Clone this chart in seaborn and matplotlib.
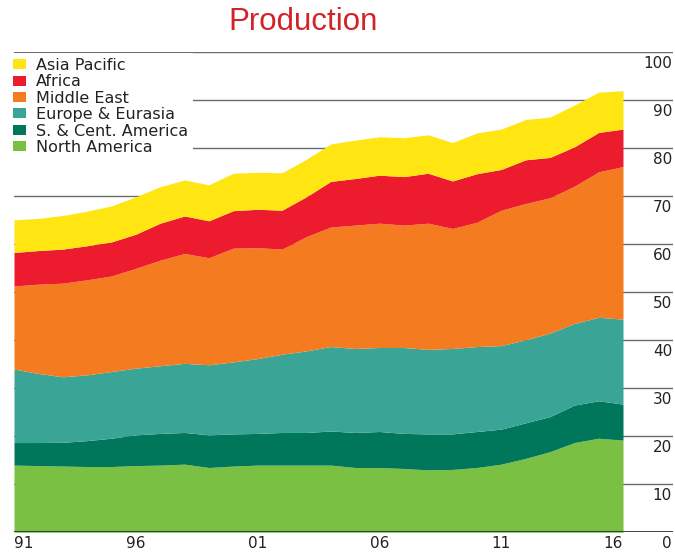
"""
Stacked area chart of oil production by region (1991-2016).
"""

import matplotlib
matplotlib.use("Agg")
import matplotlib.pyplot as plt
import matplotlib.transforms as mtransforms
from matplotlib.patches import Patch
import seaborn as sns

years = list(range(1991, 2017))

north_america = [14.0, 13.9, 13.8, 13.7, 13.7, 13.9, 14.0, 14.2, 13.5, 13.8,
                 14.0, 14.0, 14.0, 14.0, 13.5, 13.5, 13.3, 13.0, 13.1, 13.5,
                 14.2, 15.4, 16.8, 18.7, 19.6, 19.2]
sc_america = [4.7, 4.8, 4.95, 5.4, 5.9, 6.4, 6.6, 6.6, 6.8, 6.7,
              6.6, 6.8, 6.8, 7.1, 7.3, 7.5, 7.3, 7.5, 7.4, 7.5,
              7.3, 7.4, 7.3, 7.8, 7.8, 7.5]
europe_eurasia = [15.3, 14.4, 13.65, 13.7, 13.9, 13.9, 14.1, 14.4, 14.6, 15.0,
                  15.6, 16.3, 17.0, 17.6, 17.5, 17.5, 17.9, 17.6, 17.8, 17.7,
                  17.4, 17.3, 17.4, 17.0, 17.4, 17.7]
middle_east = [17.3, 18.6, 19.5, 19.8, 19.9, 20.8, 22.0, 22.9, 22.3, 23.7,
               23.1, 21.9, 23.8, 24.9, 25.7, 25.9, 25.5, 26.3, 25.0, 25.9,
               28.2, 28.4, 28.2, 28.6, 30.3, 31.8]
africa = [7.0, 7.0, 7.1, 7.1, 7.1, 7.1, 7.7, 7.8, 7.7, 7.8,
          8.0, 8.1, 8.3, 9.5, 9.7, 10.0, 10.1, 10.4, 9.9, 10.1,
          8.5, 9.1, 8.4, 8.2, 8.2, 7.8]
asia_pacific = [6.8, 6.7, 7.0, 7.2, 7.5, 7.8, 7.6, 7.5, 7.5, 7.8,
                7.7, 7.8, 7.8, 7.8, 8.0, 8.0, 8.1, 8.0, 8.0, 8.5,
                8.4, 8.4, 8.4, 8.7, 8.4, 8.0]

region_names = ["North America", "S. & Cent. America", "Europe & Eurasia",
                "Middle East", "Africa", "Asia Pacific"]
region_colors = ["#7AC143", "#00765A", "#3AA597", "#F47B20", "#EC1C2E", "#FFE512"]

x_ticks = [1991, 1996, 2001, 2006, 2011, 2016]
x_labels = ["91", "96", "01", "06", "11", "16"]
y_ticks = list(range(0, 101, 10))
y_labels = [str(v) for v in y_ticks]


def production_plot():
    sns.set_style("white")
    plt.rcParams["font.family"] = ["DejaVu Sans"]

    fig = plt.figure(figsize=(6.75, 5.55), dpi=100)
    ax = fig.add_axes([14 / 675, (555 - 532.3) / 555,
                       659 / 675, 480 / 555])

    palette = sns.color_palette(region_colors)

    # gridlines behind the areas
    for v in y_ticks[1:]:
        ax.axhline(v, color="#6b6b6b", linewidth=1, zorder=0)

    ax.stackplot(
        years,
        north_america, sc_america, europe_eurasia,
        middle_east, africa, asia_pacific,
        colors=palette,
        linewidth=0,
        zorder=1
    )

    ax.axhline(0, color="#2e362e", linewidth=2, zorder=3)

    ax.set_xlim(1991, 1991 + 659 / 24.36)
    ax.set_ylim(0, 100)
    sns.despine(ax=ax, left=True, bottom=True)

    ax.set_xticks(x_ticks, x_labels)
    ax.tick_params(axis="x", length=0, pad=3, labelsize=11, labelcolor="#222222")
    xl = ax.get_xticklabels()
    xl[0].set_ha("left")
    xl[-1].set_ha("right")

    # value labels sit just under their gridline, right aligned
    ax.set_yticks([])
    blend = mtransforms.blended_transform_factory(ax.transAxes, ax.transData)
    shifted = mtransforms.offset_copy(blend, fig=fig, x=-1, y=-4, units="dots")
    for v, lab in zip(y_ticks, y_labels):
        ax.text(1.0, v, lab, transform=shifted, ha="right", va="top",
                fontsize=11, color="#222222", clip_on=False)

    handles = [Patch(facecolor=c, edgecolor="none") for c in palette]
    leg = ax.legend(
        handles[::-1], region_names[::-1],
        loc="upper left",
        bbox_to_anchor=(8 / 675, (555 - 53) / 555),
        bbox_transform=fig.transFigure,
        frameon=True,
        facecolor="white",
        edgecolor="none",
        framealpha=1,
        fancybox=False,
        fontsize=11.5,
        handlelength=0.85,
        handleheight=0.58,
        handletextpad=0.6,
        labelspacing=0.09,
        borderpad=0.3,
        borderaxespad=0
    )
    for t in leg.get_texts():
        t.set_color("#222222")
    leg.set_zorder(5)

    fig.text(303 / 675, 1 - 30 / 555, "Production",
             ha="center", va="baseline", fontsize=22.5,
             color="#D2232A", family="Liberation Sans")

    fig.savefig("out.png", dpi=100)


if __name__ == "__main__":
    production_plot()
